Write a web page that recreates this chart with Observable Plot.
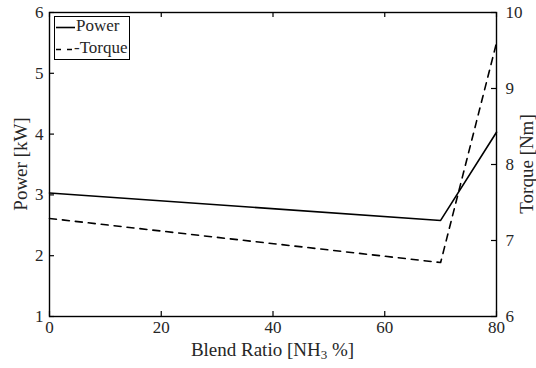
<!DOCTYPE html>
<html><head><meta charset="utf-8">
<script src="https://cdn.jsdelivr.net/npm/d3@7"></script>
<script src="https://cdn.jsdelivr.net/npm/@observablehq/plot@0.6"></script>
<style>body{margin:0;background:#fff} #chart svg{display:block}</style>
</head><body><div id="chart"></div>
<script>
const blendRatio = [0, 70, 80];
const power = [3.03, 2.58, 4.03];
const torque = [7.29, 6.71, 9.6];
const xTicks = [0, 20, 40, 60, 80];
const powerTicks = [1, 2, 3, 4, 5, 6];
const torqueTicks = [6, 7, 8, 9, 10];
const seriesNames = ["Power", "Torque"];
const xLabel = "Blend Ratio [NH";
const powerLabel = "Power [kW]";
const torqueLabel = "Torque [Nm]";

const powerDomain = [1, 6], torqueDomain = [6, 10];
const toP = t => powerDomain[0] + (t - torqueDomain[0]) * (powerDomain[1] - powerDomain[0]) / (torqueDomain[1] - torqueDomain[0]);
const fromP = p => torqueDomain[0] + (p - powerDomain[0]) * (torqueDomain[1] - torqueDomain[0]) / (powerDomain[1] - powerDomain[0]);
const data = blendRatio.map((x, i) => ({x, power: power[i], torque: torque[i]}));

const W = 536, H = 368, mL = 49, mR = 40, mT = 12, mB = 52;
const plotW = W - mL - mR, plotH = H - mT - mB, TL = 5;
const FONT = '"Liberation Serif", "DejaVu Serif", serif';
const INK = "#262626";
const svg = Plot.plot({
  width: W, height: H, marginLeft: mL, marginRight: mR, marginTop: mT, marginBottom: mB,
  style: {fontFamily: FONT, fontSize: "17px", color: INK, background: "#fff", overflow: "visible"},
  x: {domain: [0, 80]},
  y: {domain: powerDomain},
  marks: [
    Plot.line(data, {x: "x", y: "power", stroke: "#000", strokeWidth: 1.6}),
    Plot.line(data, {x: "x", y: d => toP(d.torque), stroke: "#000", strokeWidth: 1.6, strokeDasharray: "7,6"}),
    // inward ticks
    Plot.ruleX(xTicks, {x: d => d, insetTop: plotH - TL, stroke: "#000", strokeWidth: 1.2}),
    Plot.ruleX(xTicks, {x: d => d, insetBottom: plotH - TL, stroke: "#000", strokeWidth: 1.2}),
    Plot.ruleY(powerTicks, {y: d => d, insetRight: plotW - TL, stroke: "#000", strokeWidth: 1.2}),
    Plot.ruleY(torqueTicks, {y: d => toP(d), insetLeft: plotW - TL, stroke: "#000", strokeWidth: 1.2}),
    Plot.frame({stroke: "#000", strokeWidth: 1.4}),
    Plot.axisX({anchor: "bottom", ticks: xTicks, tickSize: 0, tickPadding: 4, tickFormat: "d", label: null, fill: INK}),
    Plot.axisY({anchor: "left", ticks: powerTicks, tickSize: 0, tickPadding: 6, tickFormat: "d", label: null, fill: INK}),
    Plot.axisY({anchor: "right", ticks: torqueTicks.map(toP), tickFormat: p => String(Math.round(fromP(p))), tickSize: 0, tickPadding: 9, label: null, fill: INK})
  ]
});
document.getElementById("chart").appendChild(svg);

const s = d3.select(svg);
// axis labels
const xl = s.append("text").attr("x", (mL + W - mR) / 2).attr("y", 352)
  .attr("text-anchor", "middle").attr("dominant-baseline", "middle")
  .attr("fill", INK).style("font-family", FONT).style("font-size", "19px");
xl.append("tspan").text(xLabel);
xl.append("tspan").attr("dy", 4).style("font-size", "13px").text("3");
xl.append("tspan").attr("dy", -4).text(" %]");

s.append("text").attr("transform", `translate(23,${(mT + H - mB) / 2}) rotate(-90)`)
  .attr("text-anchor", "middle").attr("dominant-baseline", "middle")
  .attr("fill", INK).style("font-family", FONT).style("font-size", "19px").text(powerLabel);
s.append("text").attr("transform", `translate(529,${(mT + H - mB) / 2}) rotate(-90)`)
  .attr("text-anchor", "middle").attr("dominant-baseline", "middle")
  .attr("fill", INK).style("font-family", FONT).style("font-size", "19px").text(torqueLabel);

// legend
const lg = s.append("g");
lg.append("rect").attr("x", 54.5).attr("y", 16.5).attr("width", 75).attr("height", 43)
  .attr("fill", "#fff").attr("stroke", "#000").attr("stroke-width", 1);
const dashes = [null, "5,6"];
seriesNames.forEach((name, i) => {
  const cy = 27.5 + i * 22;
  lg.append("line").attr("x1", 56).attr("x2", 75).attr("y1", cy).attr("y2", cy)
    .attr("stroke", "#000").attr("stroke-width", 1.6).attr("stroke-dasharray", dashes[i]);
  lg.append("text").attr("x", i ? 74 : 76).attr("y", cy).attr("text-anchor", "start").attr("dominant-baseline", "middle")
    .attr("fill", INK).style("font-family", FONT).style("font-size", "17px").text("-".repeat(i) + name);
});
</script>
</body></html>
